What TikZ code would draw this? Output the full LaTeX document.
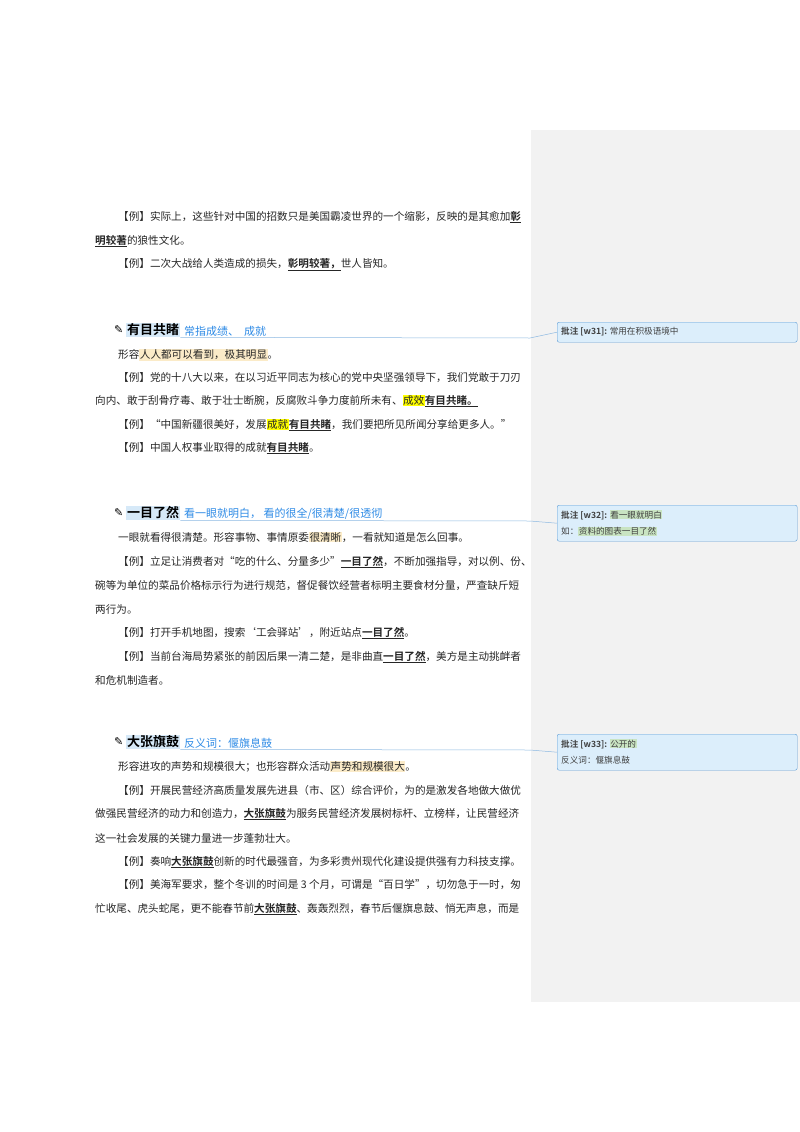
\documentclass[tikz,border=0pt]{standalone}
\usepackage{fontspec}
\setmainfont{Noto Sans CJK SC}[BoldFont={Noto Sans CJK SC Bold}]
\newfontfamily\pen{DejaVu Sans}
\usepackage{xcolor}
\definecolor{pane}{HTML}{F2F2F2}
\definecolor{cbox}{HTML}{DCEEFB}
\definecolor{cline}{HTML}{5B9BD5}
\definecolor{hlo}{HTML}{FBEBC8}
\definecolor{hly}{HTML}{FFFF00}
\definecolor{hlb}{HTML}{D6E9F8}
\definecolor{hlg}{HTML}{C9E4C2}
\definecolor{note}{HTML}{2E8BE6}
\newcommand{\kw}[1]{\underline{\textbf{#1}}}
\newcommand{\hl}[2]{{\setlength{\fboxsep}{0.5pt}\colorbox{#1}{#2}}}
\tikzset{
 txt/.style={anchor=west,inner sep=0pt,font=\fontsize{10.6}{12}\selectfont,text=black!85},
 head/.style={anchor=west,inner sep=1pt,fill=hlb,font=\fontsize{13}{14}\selectfont\bfseries},
 ann/.style={anchor=west,inner sep=0pt,font=\fontsize{11}{12}\selectfont\itshape,text=note},
 icon/.style={anchor=west,inner sep=0pt,font=\pen\fontsize{11}{12}\selectfont},
 com/.style={draw=cline,fill=cbox,rounded corners=2pt,minimum width=240pt,anchor=north west,inner sep=0pt},
 ctxt/.style={anchor=west,inner sep=0pt,font=\fontsize{8.6}{10}\selectfont,text=black!75},
 link/.style={draw=cline!70,line width=0.5pt},
}
\begin{document}
\begin{tikzpicture}[x=1pt,y=-1pt]
\useasboundingbox (0,0) rectangle (800,1132);
\fill[white] (0,0) rectangle (800,1132);
\fill[pane] (531,130) rectangle (800,1002);
% section 0
\node[txt] (a1) at (118,217) {【例】实际上，这些针对中国的招数只是美国霸凌世界的一个缩影，反映的是其愈加\kw{彰}};
\node[txt] (a2) at (95,241) {\kw{明较著}的狼性文化。};
\node[txt] (a3) at (118,265) {【例】二次大战给人类造成的损失，\kw{彰明较著，}世人皆知。};
% section 1
\node[icon] (p1) at (114,330) {✎};
\node[head] (h1) at (126,330) {有目共睹};
\node[ann] (n1) at (184,331) {常指成绩、\ \ 成就};
\coordinate (e1) at (530,338);
\draw[link] (h1.south east) -- (e1);
\node[com,minimum height=20pt] (c1) at (557,322) {};
\node[ctxt] (c1t) at (561,332) {\textbf{批注 [w31]:} 常用在积极语境中};
\draw[link] (e1) -- (c1.west);
\node[txt] (b1) at (118,355) {形容\hl{hlo}{人人都可以看到，极其明显}。};
\node[txt] (b2) at (118,378) {【例】党的十八大以来，在以习近平同志为核心的党中央坚强领导下，我们党敢于刀刃};
\node[txt] (b3) at (95,401) {向内、敢于刮骨疗毒、敢于壮士断腕，反腐败斗争力度前所未有、\hl{hly}{成效}\kw{有目共睹。}};
\node[txt] (b4) at (118,425) {【例】“中国新疆很美好，发展\hl{hly}{成就}\kw{有目共睹}，我们要把所见所闻分享给更多人。”};
\node[txt] (b5) at (118,448) {【例】中国人权事业取得的成就\kw{有目共睹}。};
% section 2
\node[icon] (p2) at (114,513) {✎};
\node[head] (h2) at (126,513) {一目了然};
\node[ann] (n2) at (184,514) {看一眼就明白，\ 看的很全/很清楚/很透彻};
\coordinate (e2) at (530,521);
\draw[link] (h2.south east) -- (e2);
\node[com,minimum height=36pt] (c2) at (557,505) {};
\node[ctxt] (c2t) at (561,515) {\textbf{批注 [w32]:} \hl{hlg}{看一眼就明白}};
\node[ctxt] (c2u) at (561,531) {如：\hl{hlg}{资料的图表一目了然}};
\draw[link] (e2) -- (c2.west);
\node[txt] (d1) at (118,537) {一眼就看得很清楚。形容事物、事情原委\hl{hlo}{很清晰}，一看就知道是怎么回事。};
\node[txt] (d2) at (118,562) {【例】立足让消费者对“吃的什么、分量多少”\kw{一目了然}，不断加强指导，对以例、份、};
\node[txt] (d3) at (95,586) {碗等为单位的菜品价格标示行为进行规范，督促餐饮经营者标明主要食材分量，严查缺斤短};
\node[txt] (d4) at (95,609) {两行为。};
\node[txt] (d5) at (118,633) {【例】打开手机地图，搜索‘工会驿站’，附近站点\kw{一目了然}。};
\node[txt] (d6) at (118,657) {【例】当前台海局势紧张的前因后果一清二楚，是非曲直\kw{一目了然}，美方是主动挑衅者};
\node[txt] (d7) at (95,680) {和危机制造者。};
% section 3
\node[icon] (p3) at (114,742) {✎};
\node[head] (h3) at (126,742) {大张旗鼓};
\node[ann] (n3) at (184,743) {反义词：偃旗息鼓};
\coordinate (e3) at (530,750);
\draw[link] (h3.south east) -- (e3);
\node[com,minimum height=36pt] (c3) at (557,734) {};
\node[ctxt] (c3t) at (561,744) {\textbf{批注 [w33]:} \hl{hlg}{公开的}};
\node[ctxt] (c3u) at (561,760) {反义词：偃旗息鼓};
\draw[link] (e3) -- (c3.west);
\node[txt] (f1) at (118,767) {形容进攻的声势和规模很大；也形容群众活动\hl{hlo}{声势和规模很大}。};
\node[txt] (f2) at (118,791) {【例】开展民营经济高质量发展先进县（市、区）综合评价，为的是激发各地做大做优};
\node[txt] (f3) at (95,814) {做强民营经济的动力和创造力，\kw{大张旗鼓}为服务民营经济发展树标杆、立榜样，让民营经济};
\node[txt] (f4) at (95,838) {这一社会发展的关键力量进一步蓬勃壮大。};
\node[txt] (f5) at (118,862) {【例】奏响\kw{大张旗鼓}创新的时代最强音，为多彩贵州现代化建设提供强有力科技支撑。};
\node[txt] (f6) at (118,885) {【例】美海军要求，整个冬训的时间是 3 个月，可谓是“百日学”，切勿急于一时，匆};
\node[txt] (f7) at (95,909) {忙收尾、虎头蛇尾，更不能春节前\kw{大张旗鼓}、轰轰烈烈，春节后偃旗息鼓、悄无声息，而是};
\end{tikzpicture}
\end{document}
